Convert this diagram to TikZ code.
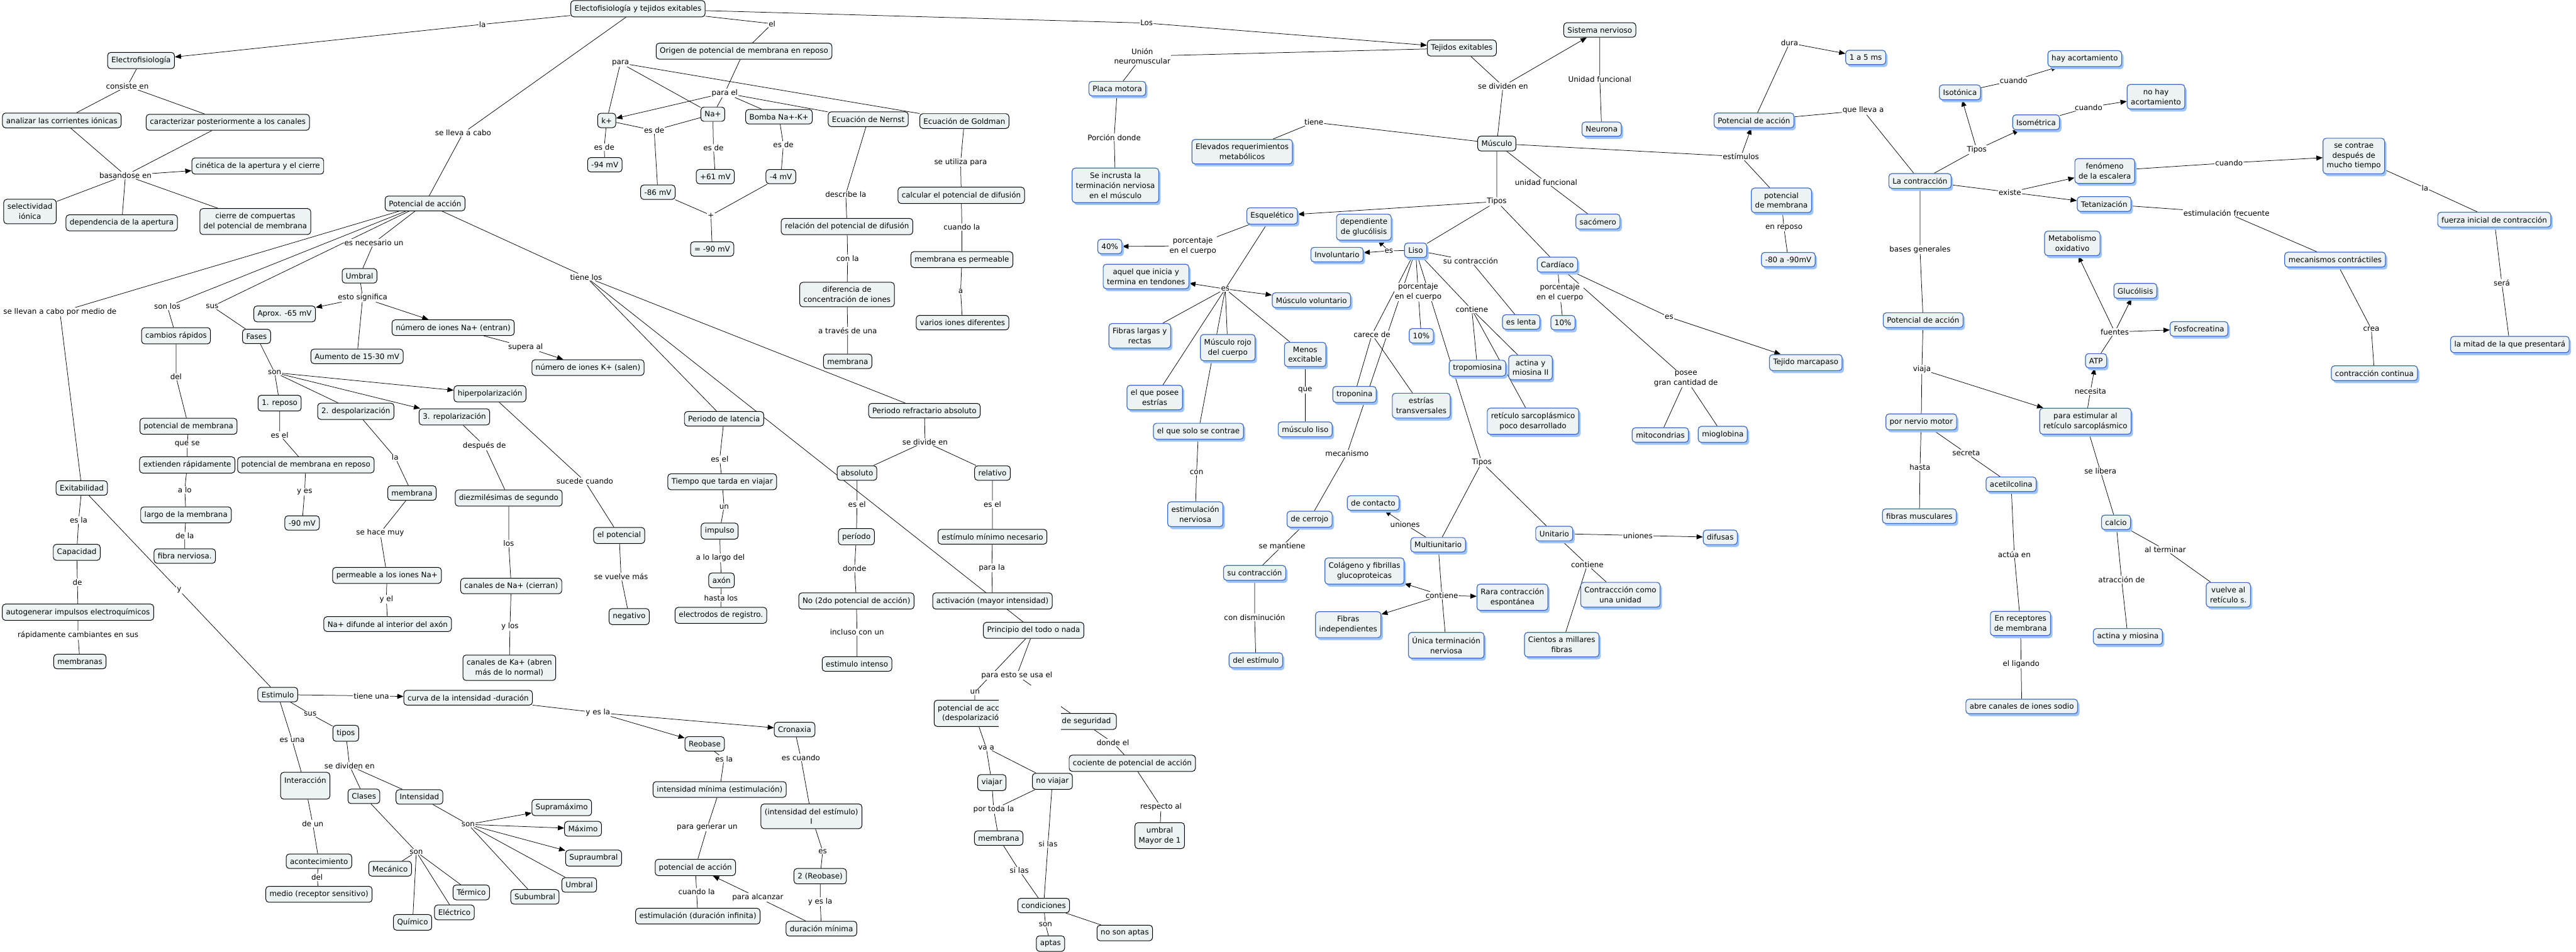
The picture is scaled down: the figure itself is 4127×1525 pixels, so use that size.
\documentclass[tikz,border=0pt]{standalone}
\usepackage{fontspec}
\usetikzlibrary{arrows.meta,shadows}
\newfontfamily\dvs{DejaVu Sans}
\newcommand{\nf}{\dvs\fontsize{12}{16}\selectfont}
\definecolor{nodefill}{HTML}{EDF3F5}
\definecolor{nodeblue}{HTML}{3C69C6}
\definecolor{shadowblue}{HTML}{9EC3F7}
\pgfdeclarelayer{background}
\pgfsetlayers{background,main}
\tikzset{
 cb/.style={draw=black, fill=nodefill, rounded corners=5pt, line width=1pt, align=center, inner xsep=6pt, inner ysep=7pt, font=\nf},
 bb/.style={draw=nodeblue, fill=nodefill, rounded corners=5pt, line width=1.2pt, align=center, inner xsep=6pt, inner ysep=7pt, font=\nf, drop shadow={shadow xshift=3pt, shadow yshift=-4pt, fill=shadowblue, opacity=1}},
 lb/.style={fill=white, inner sep=1pt, align=center, font=\nf},
 ln/.style={draw=black, line width=0.75pt},
 ar/.style={ln, -{Triangle[length=10pt,width=8pt]}},
}
\begin{document}
\begin{tikzpicture}[x=1pt,y=-1pt]
\useasboundingbox (0,0) rectangle (4127,1525);
% ---------- black nodes ----------
\node[cb] (E0) at (1022,14) {Electofisiología y tejidos exitables};
\node[cb] (efis) at (226,97) {Electrofisiología};
\node[cb] (anal) at (99,193) {analizar las corrientes iónicas};
\node[cb] (carac) at (365,196) {caracterizar posteriormente a los canales};
\node[cb] (cinet) at (413,266) {cinética de la apertura y el cierre};
\node[cb] (selec) at (48,339) {selectividad\\iónica};
\node[cb] (depen) at (195,357) {dependencia de la apertura};
\node[cb] (cierre) at (409,355) {cierre de compuertas\\del potencial de membrana};
\node[cb] (pa1) at (681,326) {Potencial de acción};
\node[cb] (kplus) at (972,193) {k+};
\node[cb] (m94) at (969,264) {-94 mV};
\node[cb] (umb) at (576,442) {Umbral};
\node[cb] (aprox) at (456,503) {Aprox. -65 mV};
\node[cb] (nNa) at (726,525) {número de iones Na+ (entran)};
\node[cb] (origen) at (1192,82) {Origen de potencial de membrana en reposo};
\node[cb] (naplus) at (1142,183) {Na+};
\node[cb] (bomba) at (1248,187) {Bomba Na+-K+};
\node[cb] (nernst) at (1391,191) {Ecuación de Nernst};
\node[cb] (goldman) at (1545,194) {Ecuación de Goldman};
\node[cb] (p61) at (1146,283) {+61 mV};
\node[cb] (m4) at (1251,283) {-4 mV};
\node[cb] (m86) at (1054,308) {-86 mV};
\node[cb] (m90a) at (1141,399) {= -90 mV};
\node[cb] (relac) at (1357,363) {relación del potencial de difusión};
\node[cb] (difer) at (1357,472) {diferencia de\\concentración de iones};
\node[cb] (membA) at (1358,579) {membrana};
\node[cb] (calc) at (1540,313) {calcular el potencial de difusión};
\node[cb] (mperm) at (1541,416) {membrana es permeable};
\node[cb] (varios) at (1542,517) {varios iones diferentes};
\node[cb] (tejidos) at (2342,77) {Tejidos exitables};
\node[cb] (sisnerv) at (2563,48) {Sistema nervioso};
\node[cb] (musculo) at (2398,230) {Músculo};
\node[cb] (cambios) at (282,538) {cambios rápidos};
\node[cb] (fases) at (411,539) {Fases};
\node[cb] (aumento) at (572,571) {Aumento de 15-30 mV};
\node[cb] (nK) at (942,589) {número de iones K+ (salen)};
\node[cb] (hiper) at (785,631) {hiperpolarización};
\node[cb] (reposo) at (448,646) {1. reposo};
\node[cb] (despol) at (570,659) {2. despolarización};
\node[cb] (repol) at (728,668) {3. repolarización};
\node[cb] (pmem) at (302,683) {potencial de membrana};
\node[cb] (extien) at (300,745) {extienden rápidamente};
\node[cb] (pmrep) at (490,745) {potencial de membrana en reposo};
\node[cb] (exit) at (131,782) {Exitabilidad};
\node[cb] (membB) at (660,790) {membrana};
\node[cb] (diezm) at (815,798) {diezmilésimas de segundo};
\node[cb] (largo) at (298,825) {largo de la membrana};
\node[cb] (m90b) at (484,838) {-90 mV};
\node[cb] (elpot) at (992,858) {el potencial};
\node[cb] (capac) at (123,885) {Capacidad};
\node[cb] (fibra) at (296,891) {fibra nerviosa.};
\node[cb] (perm) at (620,922) {permeable a los iones Na+};
\node[cb] (canNa) at (819,939) {canales de Na+ (cierran)};
\node[cb] (autog) at (125,981) {autogenerar impulsos electroquímicos};
\node[cb] (negat) at (1008,988) {negativo};
\node[cb] (nadif) at (621,1000) {Na+ difunde al interior del axón};
\node[cb] (membr) at (128,1060) {membranas};
\node[cb] (canKa) at (816,1070) {canales de Ka+ (abren\\más de lo normal)};
\node[cb] (latenc) at (1160,671) {Periodo de latencia};
\node[cb] (refrac) at (1481,658) {Periodo refractario absoluto};
\node[cb] (absol) at (1373,758) {absoluto};
\node[cb] (relat) at (1590,758) {relativo};
\node[cb] (tiempo) at (1157,772) {Tiempo que tarda en viajar};
\node[cb] (impul) at (1153,851) {impulso};
\node[cb] (period) at (1372,860) {período};
\node[cb] (estmin) at (1590,860) {estímulo mínimo necesario};
\node[cb] (axon) at (1156,930) {axón};
\node[cb] (electr) at (1155,986) {electrodos de registro.};
\node[cb] (no2) at (1372,963) {No (2do potencial de acción)};
\node[cb] (activ) at (1590,963) {activación (mayor intensidad)};
\node[cb] (princ) at (1656,1010) {Principio del todo o nada};
\node[cb] (estim) at (445,1113) {Estimulo};
\node[cb] (curva) at (750,1118) {curva de la intensidad -duración};
\node[cb] (tipos) at (554,1175) {tipos};
\node[cb, minimum height=43pt, text depth=18pt] (inter) at (489,1259) {Interacción};
\node[cb] (clases) at (583,1276) {Clases};
\node[cb] (intens) at (672,1277) {Intensidad};
\node[cb] (suprmax) at (900,1294) {Supramáximo};
\node[cb] (maximo) at (934,1328) {Máximo};
\node[cb] (suprumb) at (951,1375) {Supraumbral};
\node[cb] (acont) at (511,1380) {acontecimiento};
\node[cb] (mecan) at (625,1392) {Mecánico};
\node[cb] (termico) at (755,1430) {Térmico};
\node[cb] (umb2) at (928,1418) {Umbral};
\node[cb] (medio) at (511,1433) {medio (receptor sensitivo)};
\node[cb] (subumb) at (857,1437) {Subumbral};
\node[cb] (electrico) at (728,1462) {Eléctrico};
\node[cb] (quimico) at (661,1478) {Químico};
\node[cb] (estint) at (1373,1064) {estimulo intenso};
\node[cb, anchor=west] (padesp) at (1496,1143) {potencial de acción\\(despolarización)};
\node[cb, anchor=east, minimum width=110pt] (segur) at (1789,1156) {\hspace*{14pt}de seguridad};
\node[cb] (cronax) at (1273,1169) {Cronaxia};
\node[cb] (reob) at (1129,1192) {Reobase};
\node[cb] (cocien) at (1814,1223) {cociente de potencial de acción};
\node[cb] (noviaj) at (1686,1252) {no viajar};
\node[cb] (viajar) at (1589,1254) {viajar};
\node[cb] (intmin) at (1153,1265) {intensidad mínima (estimulación)};
\node[cb] (intest) at (1300,1308) {(intensidad del estímulo)\\I};
\node[cb] (membC) at (1600,1343) {membrana};
\node[cb] (umbmay) at (1858,1339) {umbral\\Mayor de 1};
\node[cb] (pa4) at (1114,1390) {potencial de acción};
\node[cb] (reob2) at (1314,1404) {2 (Reobase)};
\node[cb] (cond) at (1672,1451) {condiciones};
\node[cb] (estinf) at (1118,1468) {estimulación (duración infinita)};
\node[cb] (durmin) at (1316,1488) {duración mínima};
\node[cb] (nosonap) at (1802,1495) {no son aptas};
\node[cb] (aptas) at (1683,1512) {aptas};
% ---------- blue nodes ----------
\node[bb] (placa) at (1790,142) {Placa motora};
\node[bb] (incrus) at (1787,297) {Se incrusta la\\terminación nerviosa\\en el músculo};
\node[bb] (elev) at (1990,243) {Elevados requerimientos\\metabólicos};
\node[bb] (esquel) at (2038,346) {Esquelético};
\node[bb] (p40) at (1778,395) {40\%};
\node[bb] (aquel) at (1836,443) {aquel que inicia y\\termina en tendones};
\node[bb] (neurona) at (2566,207) {Neurona};
\node[bb] (sacom) at (2560,355) {sacómero};
\node[bb] (depgl) at (2185,364) {dependiente\\de glucólisis};
\node[bb] (invol) at (2142,408) {Involuntario};
\node[bb] (liso) at (2268,401) {Liso};
\node[bb] (cardia) at (2495,424) {Cardíaco};
\node[bb] (eslenta) at (2437,516) {es lenta};
\node[bb] (p10c) at (2504,517) {10\%};
\node[bb] (musvol) at (2101,481) {Músculo voluntario};
\node[bb] (pa2) at (2810,193) {Potencial de acción};
\node[bb] (ms15) at (2989,92) {1 a 5 ms};
\node[bb] (potmemb) at (2854,321) {potencial\\de membrana};
\node[bb] (m8090) at (2865,416) {-80 a -90mV};
\node[bb] (lacont) at (3076,290) {La contracción};
\node[bb] (pa3) at (3081,513) {Potencial de acción};
\node[bb] (hayac) at (3340,94) {hay acortamiento};
\node[bb] (isot) at (3140,148) {Isotónica};
\node[bb] (nohay) at (3454,155) {no hay\\acortamiento};
\node[bb] (isom) at (3262,196) {Isométrica};
\node[bb] (fenom) at (3372,274) {fenómeno\\de la escalera};
\node[bb] (tetan) at (3371,327) {Tetanización};
\node[bb] (secont) at (3771,250) {se contrae\\después de\\mucho tiempo};
\node[bb] (fuerza) at (3996,352) {fuerza inicial de contracción};
\node[bb] (mecont) at (3741,416) {mecanismos contráctiles};
\node[bb] (metab) at (3320,390) {Metabolismo\\oxidativo};
\node[bb] (gluc) at (3421,466) {Glucólisis};
\node[bb] (fosfo) at (3523,527) {Fosfocreatina};
\node[bb] (atp) at (3358,578) {ATP};
\node[bb] (contcont) at (3804,598) {contracción continua};
\node[bb] (mitad) at (4021,552) {la mitad de la que presentará};
\node[bb] (paraest) at (3341,675) {para estimular al\\retículo sarcoplásmico};
\node[bb] (nervmot) at (3078,676) {por nervio motor};
\node[bb] (fibmus) at (3075,827) {fibras musculares};
\node[bb] (acetil) at (3222,776) {acetilcolina};
\node[bb] (calcio) at (3390,837) {calcio};
\node[bb] (vuelve) at (3570,953) {vuelve al\\retículo s.};
\node[bb] (recept) at (3237,999) {En receptores\\de membrana};
\node[bb] (actmio) at (3409,1020) {actina y miosina};
\node[bb] (abre) at (3239,1132) {abre canales de iones sodio};
\node[bb] (fiblar) at (1826,538) {Fibras largas y\\rectas};
\node[bb] (musrojo) at (1967,557) {Músculo rojo\\del cuerpo};
\node[bb] (posee) at (1850,637) {el que posee\\estrías};
\node[bb] (solo) at (1920,691) {el que solo se contrae};
\node[bb] (estnerv) at (1915,824) {estimulación\\nerviosa};
\node[bb] (sucont) at (2010,918) {su contracción};
\node[bb] (delest) at (2012,1058) {del estímulo};
\node[bb] (menos) at (2091,568) {Menos\\excitable};
\node[bb] (p10l) at (2277,538) {10\%};
\node[bb] (tropo) at (2367,590) {tropomiosina};
\node[bb] (actII) at (2452,589) {actina y\\miosina II};
\node[bb] (marcap) at (2893,581) {Tejido marcapaso};
\node[bb] (tropon) at (2170,632) {troponina};
\node[bb] (estrias) at (2277,650) {estrías\\transversales};
\node[bb] (retic) at (2456,675) {retículo sarcoplásmico\\poco desarrollado};
\node[bb] (mitoc) at (2660,697) {mitocondrias};
\node[bb] (miogl) at (2760,696) {mioglobina};
\node[bb] (musliso) at (2091,688) {músculo liso};
\node[bb] (contac) at (2200,806) {de contacto};
\node[bb] (cerrojo) at (2098,832) {de cerrojo};
\node[bb] (unit) at (2490,855) {Unitario};
\node[bb] (difus) at (2756,861) {difusas};
\node[bb] (multi) at (2304,873) {Multiunitario};
\node[bb] (colag) at (2186,915) {Colágeno y fibrillas\\glucoproteicas};
\node[bb] (contunid) at (2596,953) {Contraccción como\\una unidad};
\node[bb] (rara) at (2423,957) {Rara contracción\\espontánea};
\node[bb] (fibind) at (2160,1001) {Fibras\\independientes};
\node[bb] (unica) at (2317,1034) {Única terminación\\nerviosa};
\node[bb] (cientos) at (2502,1033) {Cientos a millares\\fibras};
% ---------- labels ----------
\node[lb] (lla) at (773,39) {la};
\node[lb] (lllev) at (742,213) {se lleva a cabo};
\node[lb] (lel) at (1237,38) {el};
\node[lb] (llos) at (1837,37) {Los};
\node[lb] (lcons) at (204,138) {consiste en};
\node[lb] (lbas) at (201,281) {basandose en};
\node[lb] (lpara) at (994,101) {para};
\node[lb] (lparael) at (1161,149) {para el};
\node[lb] (lesdek) at (968,236) {es de};
\node[lb] (lesde86) at (1048,209) {es de};
\node[lb] (lesdena) at (1143,237) {es de};
\node[lb] (lesdeb) at (1255,232) {es de};
\node[lb] (lplus) at (1139,345) {+};
\node[lb] (ldesc) at (1355,311) {describe la};
\node[lb] (lconla) at (1358,414) {con la};
\node[lb] (ltrav) at (1358,530) {a través de una};
\node[lb] (lutil) at (1539,260) {se utiliza para};
\node[lb] (lcuandola) at (1541,364) {cuando la};
\node[lb] (la) at (1539,467) {a};
\node[lb] (lnec) at (599,389) {es necesario un};
\node[lb] (lsignif) at (581,477) {esto significa};
\node[lb] (lsonlos) at (268,491) {son los};
\node[lb] (lsus) at (340,491) {sus};
\node[lb] (lpormed) at (96,500) {se llevan a cabo por medio de};
\node[lb] (ltiene) at (939,444) {tiene los};
\node[lb] (lsupera) at (842,556) {supera al};
\node[lb] (ldel) at (282,604) {del};
\node[lb] (lson) at (440,597) {son};
\node[lb] (lesel1) at (448,697) {es el};
\node[lb] (lquese) at (300,712) {que se};
\node[lb] (ldespde) at (776,714) {después de};
\node[lb] (lla2) at (633,733) {la};
\node[lb] (lsucede) at (937,771) {sucede cuando};
\node[lb] (lalo) at (296,785) {a lo};
\node[lb] (lyes) at (488,788) {y es};
\node[lb] (lesla) at (126,833) {es la};
\node[lb] (lhace) at (609,854) {se hace muy};
\node[lb] (ldela) at (296,858) {de la};
\node[lb] (llos2) at (815,871) {los};
\node[lb] (lvuelve) at (995,924) {se vuelve más};
\node[lb] (lde) at (124,933) {de};
\node[lb] (ly) at (287,946) {y};
\node[lb] (lyel) at (619,960) {y el};
\node[lb] (lylos) at (817,1004) {y los};
\node[lb] (lrapid) at (125,1018) {rápidamente cambiantes en sus};
\node[lb] (lesel2) at (1153,736) {es el};
\node[lb] (ldivide) at (1482,708) {se divide en};
\node[lb] (lun) at (1160,812) {un};
\node[lb] (lesel3) at (1373,808) {es el};
\node[lb] (lesel4) at (1590,808) {es el};
\node[lb] (lalargo) at (1154,894) {a lo largo del};
\node[lb] (ldonde) at (1369,911) {donde};
\node[lb] (lparala) at (1589,910) {para la};
\node[lb] (lhasta) at (1155,958) {hasta los};
\node[lb] (lincl) at (1373,1013) {incluso con un};
\node[lb] (ltieneuna) at (595,1115) {tiene una};
\node[lb] (lsus2) at (497,1144) {sus};
\node[lb] (lyesla) at (958,1142) {y es la};
\node[lb] (lesuna) at (468,1186) {es una};
\node[lb] (ldivid) at (560,1227) {se dividen en};
\node[lb] (ldeun) at (501,1320) {de un};
\node[lb] (lson2) at (750,1321) {son};
\node[lb] (lson3) at (667,1365) {son};
\node[lb] (ldel2) at (508,1406) {del};
\node[lb] (lparaesto) at (1629,1082) {para esto se usa el};
\node[lb] (lun2) at (1562,1109) {un};
\node[lb] (ldondeel) at (1783,1190) {donde el};
\node[lb] (lvaa) at (1580,1198) {va a};
\node[lb] (lesla2) at (1160,1216) {es la};
\node[lb] (lescuando) at (1283,1214) {es cuando};
\node[lb] (lportoda) at (1592,1297) {por toda la};
\node[lb] (lrespecto) at (1860,1293) {respecto al};
\node[lb] (lgenerar) at (1133,1326) {para generar un};
\node[lb] (lsilas1) at (1679,1352) {si las};
\node[lb] (les) at (1318,1364) {es};
\node[lb] (lsilas2) at (1633,1395) {si las};
\node[lb] (lcuandola2) at (1116,1429) {cuando la};
\node[lb] (lalcanzar) at (1214,1438) {para alcanzar};
\node[lb] (lyesla2) at (1314,1445) {y es la};
\node[lb] (lson4) at (1675,1481) {son};
\node[lb] (lunion) at (1830,90) {Unión\\neuromuscular};
\node[lb] (lporcion) at (1785,220) {Porción donde};
\node[lb] (lsedivid) at (2408,138) {se dividen en};
\node[lb] (lunidf) at (2563,127) {Unidad funcional};
\node[lb] (ltiene2) at (2105,196) {tiene};
\node[lb] (lunidf2) at (2477,292) {unidad funcional};
\node[lb] (ltipos) at (2398,323) {Tipos};
\node[lb] (lporc40) at (1911,394) {porcentaje\\en el cuerpo};
\node[lb] (les40) at (1963,463) {es};
\node[lb] (lesliso) at (2225,402) {es};
\node[lb] (lsucont) at (2356,418) {su contracción};
\node[lb] (lporcL) at (2272,468) {porcentaje\\en el cuerpo};
\node[lb] (lporcC) at (2499,469) {porcentaje\\en el cuerpo};
\node[lb] (lcontL) at (2358,496) {contiene};
\node[lb] (lesC) at (2674,508) {es};
\node[lb] (ldura) at (2867,69) {dura};
\node[lb] (lllevaa) at (2985,177) {que lleva a};
\node[lb] (lestimu) at (2789,251) {estímulos};
\node[lb] (lenrep) at (2858,365) {en reposo};
\node[lb] (lbases) at (3076,400) {bases generales};
\node[lb] (lcuando1) at (3226,129) {cuando};
\node[lb] (lcuando2) at (3346,172) {cuando};
\node[lb] (ltipos2) at (3167,240) {Tipos};
\node[lb] (lexiste) at (3220,308) {existe};
\node[lb] (lcuando3) at (3571,261) {cuando};
\node[lb] (lla3) at (3885,301) {la};
\node[lb] (lestfrec) at (3567,341) {estimulación frecuente};
\node[lb] (lsera) at (4008,453) {será};
\node[lb] (lfuentes) at (3388,532) {fuentes};
\node[lb] (lcrea) at (3799,527) {crea};
\node[lb] (lviaja) at (3079,592) {viaja};
\node[lb] (lnecesita) at (3349,627) {necesita};
\node[lb] (lhasta2) at (3076,749) {hasta};
\node[lb] (lsecreta) at (3150,726) {secreta};
\node[lb] (llibera) at (3365,755) {se libera};
\node[lb] (lactua) at (3227,888) {actúa en};
\node[lb] (lalterm) at (3469,881) {al terminar};
\node[lb] (latrac) at (3399,929) {atracción de};
\node[lb] (lligando) at (3238,1064) {el ligando};
\node[lb] (lcon) at (1917,757) {con};
\node[lb] (lsemant) at (2054,875) {se mantiene};
\node[lb] (lcondism) at (2010,989) {con disminución};
\node[lb] (lcarece) at (2198,536) {carece de};
\node[lb] (lposee) at (2701,607) {posee\\gran cantidad de};
\node[lb] (lque) at (2091,625) {que};
\node[lb] (lmecan) at (2158,727) {mecanismo};
\node[lb] (ltiposL) at (2374,741) {Tipos};
\node[lb] (lunion1) at (2251,840) {uniones};
\node[lb] (lunion2) at (2624,858) {uniones};
\node[lb] (lcontU) at (2543,905) {contiene};
\node[lb] (lcontM) at (2310,954) {contiene};
% occluded region
\fill[white] (1600,1098) rectangle (1700,1172);
% ---------- connectors ----------
\begin{pgfonlayer}{background}
\draw[ln] (E0)--(lla); \draw[ar] (lla)--(efis);
\draw[ln] (E0)--(lllev)--(pa1);
\draw[ln] (E0)--(lel)--(origen);
\draw[ln] (E0)--(llos); \draw[ar] (llos)--(tejidos);
\draw[ln] (efis)--(lcons)--(anal); \draw[ln] (lcons)--(carac);
\draw[ln] (anal)--(lbas)--(carac); \draw[ar] (lbas)--(cinet);
\draw[ln] (lbas)--(selec); \draw[ln] (lbas)--(depen); \draw[ln] (lbas)--(cierre);
\draw[ln] (origen)--(lparael); \draw[ar] (lparael)--(kplus);
\draw[ln] (lparael)--(naplus); \draw[ln] (lparael)--(bomba); \draw[ln] (lparael)--(nernst);
\draw[ln] (goldman)--(lpara)--(kplus); \draw[ln] (lpara)--(naplus);
\draw[ln] (kplus)--(lesdek)--(m94);
\draw[ln] (kplus)--(lesde86)--(m86); \draw[ln] (naplus)--(lesde86);
\draw[ln] (naplus)--(lesdena)--(p61);
\draw[ln] (bomba)--(lesdeb)--(m4);
\draw[ln] (m86)--(lplus)--(m90a); \draw[ln] (m4)--(lplus);
\draw[ln] (nernst)--(ldesc)--(relac)--(lconla)--(difer)--(ltrav)--(membA);
\draw[ln] (goldman)--(lutil)--(calc)--(lcuandola)--(mperm)--(la)--(varios);
\draw[ln] (pa1)--(lpormed)--(exit);
\draw[ln] (pa1)--(lsonlos)--(cambios);
\draw[ln] (pa1)--(lsus)--(fases);
\draw[ln] (pa1)--(lnec)--(umb);
\draw[ln] (pa1)--(ltiene)--(latenc); \draw[ln] (ltiene)--(princ); \draw[ln] (ltiene)--(refrac);
\draw[ln] (umb)--(lsignif)--(aumento); \draw[ar] (lsignif)--(aprox); \draw[ar] (lsignif)--(nNa);
\draw[ln] (nNa)--(lsupera); \draw[ar] (lsupera)--(nK);
\draw[ln] (cambios)--(ldel)--(pmem)--(lquese)--(extien)--(lalo)--(largo)--(ldela)--(fibra);
\draw[ln] (fases)--(lson)--(reposo); \draw[ln] (lson)--(despol); \draw[ar] (lson)--(repol); \draw[ar] (lson)--(hiper);
\draw[ln] (reposo)--(lesel1)--(pmrep)--(lyes)--(m90b);
\draw[ln] (despol)--(lla2)--(membB)--(lhace)--(perm)--(lyel)--(nadif);
\draw[ln] (repol)--(ldespde)--(diezm)--(llos2)--(canNa)--(lylos)--(canKa);
\draw[ln] (hiper)--(lsucede)--(elpot)--(lvuelve)--(negat);
\draw[ln] (exit)--(lesla)--(capac)--(lde)--(autog)--(lrapid)--(membr);
\draw[ln] (exit)--(ly)--(estim);
\draw[ln] (latenc)--(lesel2)--(tiempo)--(lun)--(impul)--(lalargo)--(axon)--(lhasta)--(electr);
\draw[ln] (refrac)--(ldivide)--(absol); \draw[ln] (ldivide)--(relat);
\draw[ln] (absol)--(lesel3)--(period)--(ldonde)--(no2)--(lincl)--(estint);
\draw[ln] (relat)--(lesel4)--(estmin)--(lparala)--(activ);
\draw[ln] (estim)--(ltieneuna); \draw[ar] (ltieneuna)--(curva);
\draw[ln] (estim)--(lsus2)--(tipos)--(ldivid)--(clases); \draw[ln] (ldivid)--(intens);
\draw[ln] (estim)--(lesuna)--(inter)--(ldeun)--(acont)--(ldel2)--(medio);
\draw[ln] (clases)--(lson3)--(mecan); \draw[ln] (lson3)--(termico); \draw[ln] (lson3)--(electrico); \draw[ln] (lson3)--(quimico);
\draw[ln] (intens)--(lson2)--(umb2); \draw[ln] (lson2)--(subumb);
\draw[ar] (lson2)--(suprmax); \draw[ar] (lson2)--(maximo); \draw[ar] (lson2)--(suprumb);
\draw[ln] (curva)--(lyesla); \draw[ar] (lyesla)--(cronax); \draw[ar] (lyesla)--(reob);
\draw[ln] (reob)--(lesla2)--(intmin)--(lgenerar)--(pa4)--(lcuandola2)--(estinf);
\draw[ln] (cronax)--(lescuando)--(intest)--(les)--(reob2)--(lyesla2)--(durmin)--(lalcanzar); \draw[ar] (lalcanzar)--(pa4);
\draw[ln] (princ)--(lun2)--(padesp);
\draw[ln] (princ)--(lparaesto)--(segur);
\draw[ln] (padesp)--(lvaa)--(viajar); \draw[ln] (lvaa)--(noviaj);
\draw[ln] (segur)--(ldondeel)--(cocien)--(lrespecto)--(umbmay);
\draw[ln] (viajar)--(lportoda)--(membC); \draw[ln] (noviaj)--(lportoda);
\draw[ln] (membC)--(lsilas2)--(cond);
\draw[ln] (noviaj)--(lsilas1)--(cond);
\draw[ln] (cond)--(lson4)--(aptas);
\draw[ln] (cond)--(nosonap);
% muscle
\draw[ln] (tejidos)--(lsedivid)--(musculo); \draw[ar] (lsedivid)--(sisnerv);
\draw[ln] (tejidos)--(lunion)--(placa)--(lporcion)--(incrus);
\draw[ln] (sisnerv)--(lunidf)--(neurona);
\draw[ln] (musculo)--(ltiene2)--(elev);
\draw[ln] (musculo)--(lunidf2)--(sacom);
\draw[ln] (musculo)--(ltipos)--(liso); \draw[ln] (ltipos)--(cardia); \draw[ar] (ltipos)--(esquel);
\draw[ln] (musculo)--(lestimu)--(potmemb); \draw[ar] (lestimu)--(pa2);
\draw[ln] (potmemb)--(lenrep)--(m8090);
\draw[ln] (pa2)--(ldura); \draw[ar] (ldura)--(ms15);
\draw[ln] (pa2)--(lllevaa)--(lacont);
\draw[ln] (lacont)--(ltipos2); \draw[ar] (ltipos2)--(isot); \draw[ar] (ltipos2)--(isom);
\draw[ln] (isot)--(lcuando1); \draw[ar] (lcuando1)--(hayac);
\draw[ln] (isom)--(lcuando2); \draw[ar] (lcuando2)--(nohay);
\draw[ln] (lacont)--(lexiste); \draw[ar] (lexiste)--(fenom); \draw[ar] (lexiste)--(tetan);
\draw[ln] (fenom)--(lcuando3); \draw[ar] (lcuando3)--(secont);
\draw[ln] (secont)--(lla3)--(fuerza)--(lsera)--(mitad);
\draw[ln] (tetan)--(lestfrec)--(mecont)--(lcrea)--(contcont);
\draw[ln] (lacont)--(lbases)--(pa3);
\draw[ln] (pa3)--(lviaja)--(nervmot); \draw[ar] (lviaja)--(paraest);
\draw[ln] (nervmot)--(lhasta2)--(fibmus);
\draw[ln] (nervmot)--(lsecreta)--(acetil)--(lactua)--(recept)--(lligando)--(abre);
\draw[ln] (paraest)--(lnecesita); \draw[ar] (lnecesita)--(atp);
\draw[ln] (atp)--(lfuentes); \draw[ar] (lfuentes)--(fosfo); \draw[ar] (lfuentes)--(gluc); \draw[ar] (lfuentes)--(metab);
\draw[ln] (paraest)--(llibera)--(calcio)--(latrac)--(actmio);
\draw[ln] (calcio)--(lalterm)--(vuelve);
\draw[ln] (esquel)--(lporc40); \draw[ar] (lporc40)--(p40);
\draw[ln] (esquel)--(les40); \draw[ar] (les40)--(aquel); \draw[ar] (les40)--(musvol);
\draw[ln] (les40)--(fiblar); \draw[ln] (les40)--(posee); \draw[ln] (les40)--(musrojo); \draw[ln] (les40)--(solo); \draw[ln] (les40)--(menos);
\draw[ln] (solo)--(lcon)--(estnerv);
\draw[ln] (menos)--(lque)--(musliso);
\draw[ln] (liso)--(lesliso); \draw[ar] (lesliso)--(invol); \draw[ar] (lesliso)--(depgl);
\draw[ln] (liso)--(lsucont)--(eslenta);
\draw[ln] (liso)--(lporcL)--(p10l);
\draw[ln] (liso)--(lcontL)--(tropo); \draw[ln] (lcontL)--(actII); \draw[ln] (lcontL)--(retic);
\draw[ln] (liso)--(lcarece)--(tropon); \draw[ln] (lcarece)--(estrias);
\draw[ln] (liso)--(lmecan)--(cerrojo);
\draw[ln] (liso)--(ltiposL)--(multi); \draw[ln] (ltiposL)--(unit);
\draw[ln] (cerrojo)--(lsemant)--(sucont)--(lcondism)--(delest);
\draw[ln] (multi)--(lunion1); \draw[ar] (lunion1)--(contac);
\draw[ln] (multi)--(lcontM)--(unica); \draw[ar] (lcontM)--(colag); \draw[ar] (lcontM)--(rara); \draw[ar] (lcontM)--(fibind);
\draw[ln] (unit)--(lunion2); \draw[ar] (lunion2)--(difus);
\draw[ln] (unit)--(lcontU)--(contunid); \draw[ln] (lcontU)--(cientos);
\draw[ln] (cardia)--(lporcC)--(p10c);
\draw[ln] (cardia)--(lesC); \draw[ar] (lesC)--(marcap);
\draw[ln] (cardia)--(lposee)--(mitoc); \draw[ln] (lposee)--(miogl);
\end{pgfonlayer}
\end{tikzpicture}
\end{document}
